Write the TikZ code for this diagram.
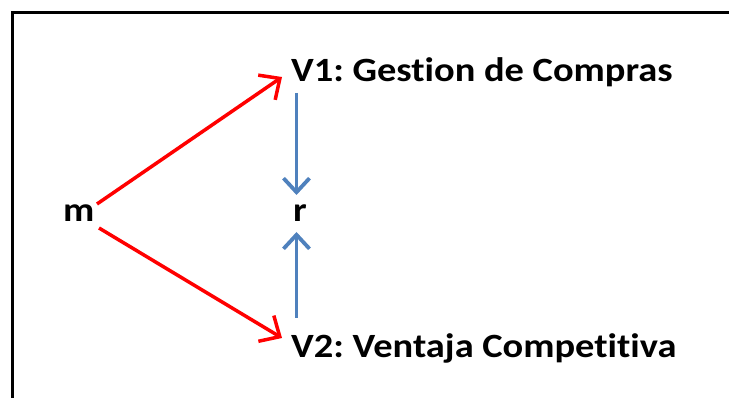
\documentclass[tikz,border=0pt]{standalone}
\usepackage{fontspec}
\setmainfont{Carlito}[RawFeature=-liga, FakeStretch=1.13, BoldFeatures={FakeStretch=1.13, RawFeature=-liga}]
\frenchspacing
\usetikzlibrary{arrows.meta}
\definecolor{linkred}{RGB}{255,0,0}
\definecolor{linkblue}{RGB}{79,129,189}
\tikzset{
  lbl/.style={font=\fontsize{34}{36}\selectfont\bfseries, inner sep=0pt, anchor=base west, text=black},
  redarrow/.style={draw=linkred, line width=3.5pt, -{Straight Barb[length=16pt, width=30pt, line width=3.5pt]}},
  bluearrow/.style={draw=linkblue, line width=3.8pt, -{Straight Barb[length=14pt, width=26pt, line width=3.8pt]}},
}
\begin{document}
\begin{tikzpicture}[x=1pt, y=-1pt]
  \useasboundingbox (0,0) rectangle (729,398);
  % frame, open to the right and bottom
  \draw[line width=3pt] (12.5,410) -- (12.5,12.5) -- (740,12.5);
  % labels
  \node[lbl] (m)  at (63,222) {m};
  \node[lbl] (r)  at (293,222) {r};
  \node[lbl] (v1) at (291,82) {V1: Gestion de Compras};
  \node[lbl] (v2) at (291,358) {V2: Ventaja Competitiva};
  % connector ends
  \coordinate (m1) at (97,204);
  \coordinate (m2) at (99,228);
  \coordinate (t1) at (282,77);
  \coordinate (t2) at (282,338);
  \coordinate (b1) at (296.5,93);
  \coordinate (rt) at (296.5,195);
  \coordinate (b2) at (296.5,318);
  \coordinate (rb) at (296.5,232);
  % arrows
  \draw[redarrow] (m1) -- (t1);
  \draw[redarrow] (m2) -- (t2);
  \draw[bluearrow] (b1) -- (rt);
  \draw[bluearrow] (b2) -- (rb);
\end{tikzpicture}
\end{document}
